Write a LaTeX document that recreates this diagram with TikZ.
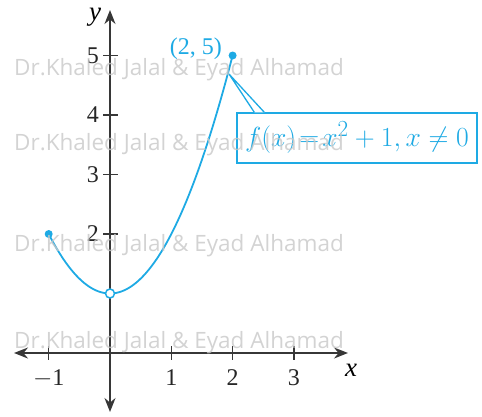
\documentclass[tikz,border=0pt]{standalone}
\usepackage{fontspec}
\setmainfont{Liberation Serif}
\newfontfamily\wmfont{Open Sans}
\usetikzlibrary{arrows.meta}
\definecolor{axisgray}{RGB}{55,55,55}
\definecolor{curvecyan}{RGB}{30,170,228}
\definecolor{wmgray}{RGB}{200,200,200}
\begin{document}
\begin{tikzpicture}[x=1pt,y=-1pt,
  axis/.style={draw=axisgray,line width=1.6pt,{Stealth[length=14pt,width=11pt]}-{Stealth[length=14pt,width=11pt]}},
  tick/.style={draw=axisgray,line width=1.4pt},
  ticklab/.style={font=\fontsize{24}{26}\selectfont,text=black!85,inner sep=0pt},
  curve/.style={draw=curvecyan,line width=1.8pt},
  dot/.style={circle,fill=curvecyan,inner sep=0pt,minimum size=8pt},
  hole/.style={circle,draw=curvecyan,fill=white,line width=1.5pt,inner sep=0pt,minimum size=9pt},
  callout/.style={draw=curvecyan,line width=1.3pt},
  wm/.style={font=\wmfont\fontsize{22.5}{24}\selectfont,text=wmgray,text opacity=0.8,inner sep=0pt,anchor=west}]
\useasboundingbox (0,0) rectangle (482,416);
% axes
\coordinate (xl) at (14,353); \coordinate (xr) at (348,353);
\coordinate (yb) at (110,412); \coordinate (yt) at (110,10);
\draw[axis] (xl) -- (xr);
\draw[axis] (yb) -- (yt);
\node[font=\itshape\fontsize{27}{29}\selectfont,inner sep=0pt] (ylab) at (95,17) {y};
\node[font=\itshape\fontsize{27}{29}\selectfont,inner sep=0pt] (xlab) at (351,370) {x};
% x ticks
\foreach \v/\t in {-1/$-$1,1/1,2/2,3/3}{
  \coordinate (xt\v) at ({110+61.3*\v},346);
  \coordinate (xb\v) at ({110+61.3*\v},360);
  \draw[tick] (xt\v) -- (xb\v);
  \node[ticklab,anchor=north] (xn\v) at ({110+61.3*\v},369) {\t};
}
% y ticks
\foreach \v in {2,3,4,5}{
  \coordinate (yl\v) at (103,{353-59.5*\v});
  \coordinate (yr\v) at (118,{353-59.5*\v});
  \draw[tick] (yl\v) -- (yr\v);
  \node[ticklab,anchor=east] (yn\v) at (99,{353-59.5*\v}) {\v};
}
% curve
\draw[curve] plot[domain=-1:2,samples=120] ({110+61.3*\x},{353-59.5*(\x*\x+1)});
\node[dot] (pa) at (48.7,234) {};
\node[dot] (pb) at (232.6,55.5) {};
\node[hole] (ph) at (110,293.5) {};
\node[font=\fontsize{24}{26}\selectfont,text=curvecyan,inner sep=0pt,anchor=east] (plab) at (222,49) {(2, 5)};
% callout
\node[callout,fill=white,minimum width=240pt,minimum height=50pt,inner sep=0pt,text=curvecyan] (box) at (357,138)
  {\scalebox{1.11}{\fontsize{24.88}{28}\selectfont$f(x)\!=\!x^2+1,x\neq0$}};
\coordinate (apex) at (229,74);
\fill[white] ([xshift=18pt]box.north west) -- (apex) -- ([xshift=28pt]box.north west) -- cycle;
\draw[callout] ([xshift=18pt]box.north west) -- (apex) -- ([xshift=28pt]box.north west);
% watermark
\foreach \yy in {70,145,246,343}{
  \node[wm] (wm\yy) at (14,\yy) {Dr.Khaled Jalal \& Eyad Alhamad};
}
\end{tikzpicture}
\end{document}
